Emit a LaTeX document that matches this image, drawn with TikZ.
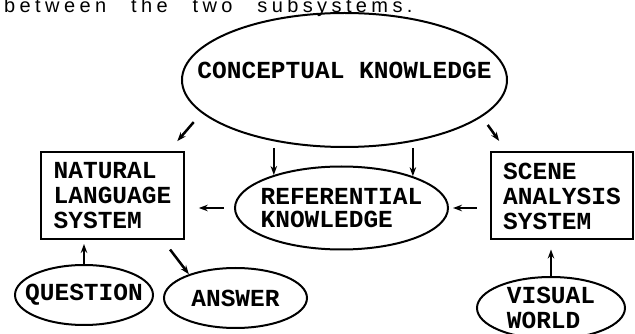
\documentclass[tikz,border=0pt]{standalone}
\usepackage{fontspec}
\setmainfont{Liberation Sans}
\setmonofont{Liberation Mono}
\newfontfamily\captionfont[LetterSpace=22, WordSpace=2.5]{Liberation Sans}
\usepackage{tikz}
\usetikzlibrary{shapes.geometric, arrows.meta}
\tikzstyle{bubble} = [ellipse, draw=black, line width=2pt, inner xsep=-35pt, inner ysep=0pt, align=left, font=\ttfamily\bfseries\fontsize{24.5pt}{25pt}\selectfont]
\tikzstyle{system} = [rectangle, draw=black, line width=2pt, inner xsep=12.5pt, minimum height=87pt, align=left, font=\ttfamily\bfseries\fontsize{24.5pt}{25pt}\selectfont]
\tikzstyle{arrow} = [line width=2.5pt,->,>={Stealth[length=9pt,width=6.5pt]}]
\begin{document}
\begin{tikzpicture}[x=1pt, y=1pt, node distance=125pt]
    \path [use as bounding box, clip] (-344.5,80) rectangle (290.5,-254);
    \node (concept) [bubble, minimum width=325pt, minimum height=134pt, text height=15pt, text depth=18pt] {CONCEPTUAL KNOWLEDGE};
    \node (ref) [bubble, below of=concept, xshift=-3pt, yshift=-3pt, minimum width=213pt, minimum height=83pt] {REFERENTIAL\\[-2pt]KNOWLEDGE};
    \node (nls) [system, left of=ref, xshift=-104pt, yshift=12.5pt] {NATURAL\\LANGUAGE\\SYSTEM};
    \node (sas) [system, right of=ref, xshift=95.5pt, yshift=12pt] {SCENE\\ANALYSIS\\SYSTEM};
    \node (question) [bubble, below of=nls, xshift=-28.5pt, yshift=25.5pt, minimum width=138pt, minimum height=60pt] {QUESTION};
    \node (answer) [bubble, right of=question, xshift=26.5pt, yshift=-3pt, minimum width=143pt, minimum height=60pt] {ANSWER};
    \node (visual) [bubble, below of=sas, xshift=-11pt, yshift=13pt, minimum width=148pt, minimum height=62pt] {VISUAL\\WORLD};
    \node (caption) [anchor=base west, inner sep=0pt, font=\captionfont\fontsize{20pt}{22pt}\selectfont] at (-340.5,67.5) {between the two subsystems.};
    \draw [arrow, shorten <=12pt, shorten >=13pt] (concept.193) -- ([xshift=-16pt]nls.north east);
    \draw [arrow, shorten <=10pt, shorten >=13pt] (concept.345) -- ([xshift=17pt]sas.north west);
    \draw [arrow] (concept.south -| ref.154) -- (ref.154);
    \draw [arrow] (concept.south -| ref.24) -- (ref.24);
    \draw [arrow, shorten <=10pt, shorten >=14pt] (ref.west) -- (ref.west -| nls.east);
    \draw [arrow, shorten <=13pt, shorten >=4pt] (sas.west |- ref.east) -- (ref.east);
    \draw [arrow, shorten >=4pt] (question.north) -- (question.north |- nls.south);
    \draw [arrow, shorten <=12pt] ([xshift=-22pt]nls.south east) -- (answer.153);
    \draw [arrow, shorten >=9pt] (visual.north) -- (visual.north |- sas.south);
\end{tikzpicture}
\end{document}
